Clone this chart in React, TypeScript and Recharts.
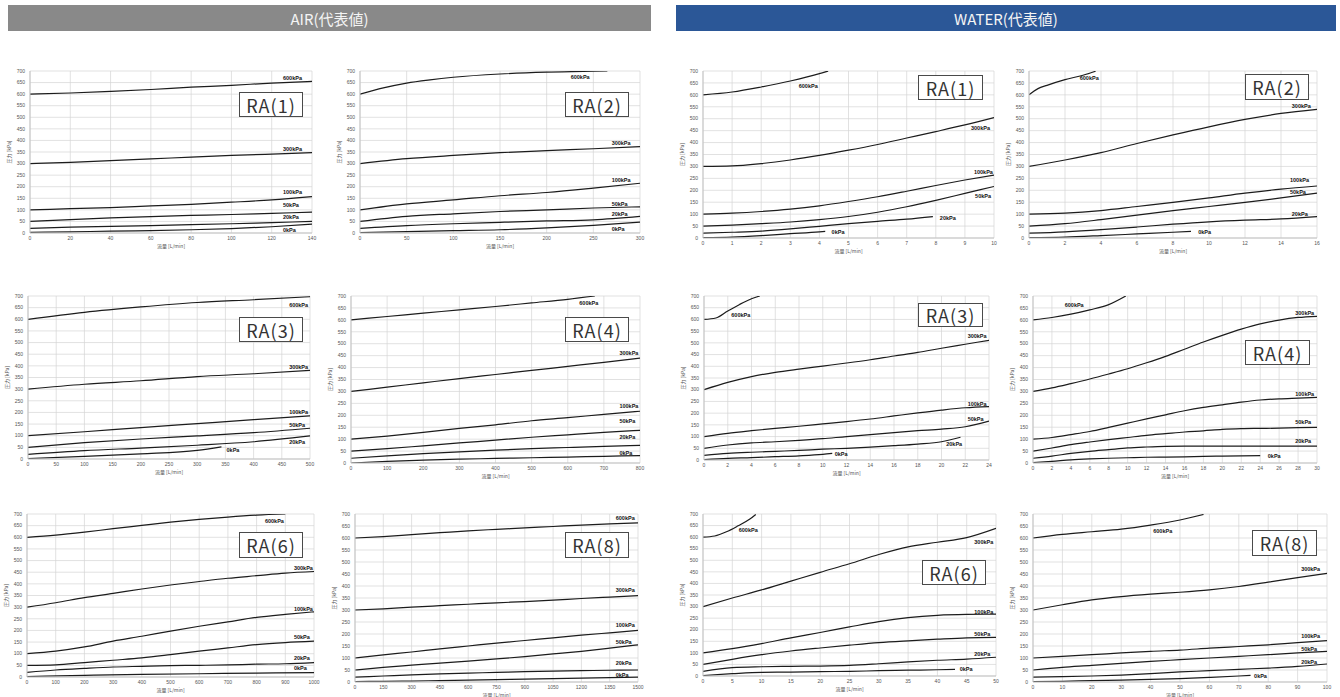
import { LineChart, Line, XAxis, YAxis, CartesianGrid, ReferenceDot, Label } from 'recharts';

const PRESSURES = ['600kPa', '300kPa', '100kPa', '50kPa', '20kPa', '0kPa'];
const Y_TICKS = [0, 50, 100, 150, 200, 250, 300, 350, 400, 450, 500, 550, 600, 650, 700];

// ---- AIR RA(1)
const AIR1_X = [0, 20, 40, 60, 80, 100, 120, 140];
const AIR1_LINES = [
  [[0, 600], [20, 605], [40, 612], [60, 620], [80, 630], [100, 638], [120, 648], [140, 655]],
  [[0, 300], [20, 305], [40, 313], [60, 320], [80, 328], [100, 335], [120, 341], [140, 347]],
  [[0, 100], [20, 105], [40, 110], [60, 117], [80, 124], [100, 133], [120, 143], [140, 157]],
  [[0, 50], [20, 58], [40, 65], [60, 71], [80, 76], [100, 80], [120, 85], [140, 90]],
  [[0, 20], [20, 25], [40, 29], [60, 32], [80, 36], [100, 40], [120, 45], [140, 50]],
  [[0, 3], [20, 5], [40, 8], [60, 10], [80, 14], [100, 19], [120, 27], [140, 38]],
];
const AIR1_TAGS = [[125.6, 671], [125.6, 364], [125.6, 179], [125.6, 122], [125.6, 69], [125.6, 11]];

// ---- AIR RA(2)
const AIR2_X = [0, 50, 100, 150, 200, 250, 300];
const AIR2_LINES = [
  [[0, 600], [25, 627], [50, 648], [75, 662], [100, 673], [150, 687], [200, 695], [250, 699], [265, 700]],
  [[0, 300], [50, 321], [100, 335], [150, 347], [200, 356], [250, 364], [300, 373]],
  [[0, 100], [50, 126], [100, 143], [150, 161], [200, 175], [250, 194], [300, 215]],
  [[0, 50], [50, 72], [100, 83], [150, 93], [200, 100], [250, 108], [300, 113]],
  [[0, 20], [50, 32], [100, 40], [150, 46], [200, 52], [250, 57], [300, 72]],
  [[0, 2], [50, 6], [100, 10], [150, 14], [200, 22], [250, 33], [300, 47]],
];
const AIR2_TAGS = [[225.7, 674], [269.6, 387], [269.6, 227], [269.6, 126], [269.6, 83], [269.6, 19]];

// ---- AIR RA(3)
const AIR3_X = [0, 50, 100, 150, 200, 250, 300, 350, 400, 450, 500];
const AIR3_LINES = [
  [[0, 600], [100, 630], [200, 653], [300, 672], [400, 684], [500, 697]],
  [[0, 300], [100, 321], [200, 336], [300, 354], [400, 366], [500, 381]],
  [[0, 100], [100, 117], [200, 135], [300, 152], [400, 169], [500, 185]],
  [[0, 50], [100, 70], [200, 86], [300, 99], [400, 113], [500, 132]],
  [[0, 20], [100, 36], [200, 47], [300, 59], [400, 74], [500, 99]],
  [[0, 2], [100, 11], [200, 22], [300, 37], [343, 52]],
];
const AIR3_TAGS = [[463, 661], [463, 397], [463, 203], [463, 146], [463, 72], [352, 39]];

// ---- AIR RA(4)
const AIR4_X = [0, 100, 200, 300, 400, 500, 600, 700, 800];
const AIR4_LINES = [
  [[0, 600], [100, 614], [200, 628], [300, 642], [400, 656], [500, 671], [600, 686], [675, 700]],
  [[0, 300], [100, 318], [200, 336], [300, 354], [400, 371], [500, 388], [600, 405], [700, 422], [800, 440]],
  [[0, 100], [100, 113], [200, 128], [300, 145], [400, 160], [500, 177], [600, 190], [700, 204], [800, 217]],
  [[0, 50], [100, 60], [200, 72], [300, 84], [400, 96], [500, 108], [600, 118], [700, 128], [800, 137]],
  [[0, 20], [100, 30], [200, 39], [300, 47], [400, 54], [500, 60], [600, 65], [700, 70], [800, 74]],
  [[0, 0], [100, 7], [200, 12], [300, 16], [400, 19], [500, 22], [600, 25], [700, 28], [800, 31]],
];
const AIR4_TAGS = [[632, 670], [743, 460], [743, 237], [743, 174], [743, 107], [743, 42]];

// ---- AIR RA(6)
const AIR6_X = [0, 100, 200, 300, 400, 500, 600, 700, 800, 900, 1000];
const AIR6_LINES = [
  [[0, 600], [100, 609], [200, 622], [300, 637], [400, 651], [500, 665], [600, 677], [700, 687], [800, 695], [900, 700]],
  [[0, 300], [100, 319], [200, 341], [300, 359], [400, 378], [500, 395], [600, 410], [700, 424], [800, 435], [900, 446], [1000, 453]],
  [[0, 100], [100, 111], [200, 129], [300, 154], [400, 175], [500, 197], [600, 218], [700, 237], [800, 256], [900, 269], [1000, 280]],
  [[0, 50], [100, 52], [200, 62], [300, 72], [400, 82], [500, 96], [600, 111], [700, 125], [800, 139], [900, 148], [1000, 154]],
  [[0, 20], [100, 30], [200, 37], [300, 43], [400, 46], [500, 49], [600, 50], [700, 52], [800, 55], [900, 57], [1000, 62]],
  [[0, 2], [200, 7], [400, 11], [600, 14], [800, 17], [1000, 19]],
];
const AIR6_TAGS = [[829, 671], [930, 470], [930, 292], [930, 172], [930, 82], [930, 39]];

// ---- AIR RA(8)
const AIR8_X = [0, 150, 300, 450, 600, 750, 900, 1050, 1200, 1350, 1500];
const AIR8_LINES = [
  [[0, 600], [150, 606], [300, 614], [450, 622], [600, 630], [750, 636], [900, 642], [1050, 648], [1200, 654], [1350, 659], [1500, 663]],
  [[0, 300], [150, 305], [300, 312], [450, 318], [600, 324], [750, 330], [900, 335], [1050, 341], [1200, 348], [1350, 354], [1500, 360]],
  [[0, 100], [150, 113], [300, 125], [450, 138], [600, 150], [750, 162], [900, 173], [1050, 184], [1200, 195], [1350, 205], [1500, 215]],
  [[0, 50], [150, 61], [300, 70], [450, 79], [600, 87], [750, 96], [900, 106], [1050, 117], [1200, 128], [1350, 141], [1500, 155]],
  [[0, 20], [150, 25], [300, 30], [450, 34], [600, 37], [750, 40], [900, 43], [1050, 45], [1200, 47], [1350, 49], [1500, 50]],
  [[0, 2], [150, 3], [300, 4], [450, 6], [600, 8], [750, 10], [900, 12], [1050, 14], [1200, 16], [1350, 18], [1500, 20]],
];
const AIR8_TAGS = [[1382, 683], [1382, 383], [1382, 236], [1382, 167], [1382, 78], [1382, 31]];

// ---- WATER RA(1)
const WAT1_X = [0, 1, 2, 3, 4, 5, 6, 7, 8, 9, 10];
const WAT1_LINES = [
  [[0, 600], [1, 612], [2, 633], [3, 658], [4, 689], [4.3, 700]],
  [[0, 300], [1, 302], [2, 312], [3, 327], [4, 346], [5, 368], [6, 392], [7, 419], [8, 446], [9, 474], [10, 505]],
  [[0, 100], [1, 104], [2, 111], [3, 121], [4, 135], [5, 153], [6, 173], [7, 196], [8, 220], [9, 243], [10, 264]],
  [[0, 50], [1, 54], [2, 60], [3, 67], [4, 77], [5, 90], [6, 108], [7, 131], [8, 158], [9, 187], [10, 216]],
  [[0, 20], [1, 24], [2, 29], [3, 38], [4, 49], [5, 60], [6, 70], [7, 79], [7.9, 90]],
  [[0, 2], [1, 4], [2, 10], [3, 18], [4, 26], [4.2, 28]],
];
const WAT1_TAGS = [[3.29, 636], [9.21, 462], [9.31, 278], [9.35, 174], [8.14, 82], [4.42, 24]];

// ---- WATER RA(2)
const WAT2_X = [0, 2, 4, 6, 8, 10, 12, 14, 16];
const WAT2_LINES = [
  [[0, 600], [0.5, 626], [1, 640], [2, 664], [3, 682], [3.7, 699]],
  [[0, 300], [2, 327], [4, 358], [6, 396], [8, 432], [10, 466], [12, 497], [14, 522], [16, 539]],
  [[0, 100], [2, 104], [4, 115], [6, 132], [8, 149], [10, 168], [12, 188], [14, 205], [16, 218]],
  [[0, 50], [2, 60], [4, 77], [6, 96], [8, 115], [10, 132], [12, 149], [14, 168], [16, 188]],
  [[0, 20], [2, 26], [4, 35], [6, 46], [8, 58], [10, 68], [12, 75], [14, 80], [16, 90]],
  [[0, 2], [2, 4], [4, 10], [6, 17], [8, 24], [9, 28]],
];
const WAT2_TAGS = [[2.82, 672], [14.6, 555], [14.5, 241], [14.5, 192], [14.6, 102], [9.4, 25]];

// ---- WATER RA(3)
const WAT3_X = [0, 2, 4, 6, 8, 10, 12, 14, 16, 18, 20, 22, 24];
const WAT3_LINES = [
  [[0, 600], [1, 606], [2, 636], [3, 664], [4, 688], [4.7, 700]],
  [[0, 300], [2, 331], [4, 356], [6, 374], [8, 388], [10, 401], [12, 414], [14, 428], [16, 444], [18, 459], [20, 477], [22, 494], [24, 511]],
  [[0, 100], [2, 114], [4, 125], [6, 135], [8, 144], [10, 154], [12, 164], [14, 175], [16, 188], [18, 201], [20, 213], [22, 223], [24, 228]],
  [[0, 50], [2, 64], [4, 73], [6, 78], [8, 84], [10, 91], [12, 100], [14, 108], [16, 117], [18, 125], [20, 132], [22, 142], [24, 166]],
  [[0, 20], [2, 28], [4, 33], [6, 37], [8, 41], [10, 46], [12, 50], [14, 55], [16, 61], [18, 68], [20, 78], [21.6, 97]],
  [[0, 2], [2, 7], [4, 10], [6, 14], [8, 18], [10, 24], [10.8, 28]],
];
const WAT3_TAGS = [[2.3, 619], [22.2, 531], [22.2, 238], [22.2, 174], [20.4, 67], [11, 24]];

// ---- WATER RA(4)
const WAT4_X = [0, 2, 4, 6, 8, 10, 12, 14, 16, 18, 20, 22, 24, 26, 28, 30];
const WAT4_LINES = [
  [[0, 600], [2, 610], [4, 624], [6, 642], [8, 664], [9.8, 700]],
  [[0, 300], [2, 315], [4, 333], [6, 352], [8, 373], [10, 395], [12, 420], [14, 447], [16, 477], [18, 507], [20, 535], [22, 561], [24, 583], [26, 599], [28, 610], [30, 615]],
  [[0, 100], [2, 107], [4, 119], [6, 132], [8, 149], [10, 167], [12, 185], [14, 202], [16, 219], [18, 233], [20, 244], [22, 255], [24, 264], [26, 269], [28, 272], [30, 275]],
  [[0, 50], [2, 63], [4, 77], [6, 88], [8, 98], [10, 107], [12, 116], [14, 123], [16, 130], [18, 135], [20, 141], [22, 144], [24, 145], [26, 146], [28, 148], [30, 149]],
  [[0, 20], [2, 29], [4, 40], [6, 49], [8, 56], [10, 63], [12, 67], [14, 70], [16, 71], [20, 71], [24, 71], [30, 71]],
  [[0, 2], [2, 7], [4, 13], [6, 17], [8, 20], [10, 22], [12, 24], [14, 25], [16, 26], [18, 28], [20, 29], [24, 31]],
];
const WAT4_TAGS = [[3.35, 662], [27.7, 628], [27.7, 290], [27.7, 172], [27.7, 91], [24.8, 28]];

// ---- WATER RA(6)
const WAT6_X = [0, 5, 10, 15, 20, 25, 30, 35, 40, 45, 50];
const WAT6_LINES = [
  [[0, 600], [2, 605], [4, 623], [6, 649], [8, 678], [9, 698]],
  [[0, 300], [5, 337], [10, 372], [15, 410], [20, 448], [25, 485], [30, 525], [35, 558], [40, 578], [45, 598], [50, 638]],
  [[0, 100], [5, 118], [10, 140], [15, 165], [20, 188], [25, 212], [30, 235], [35, 252], [40, 262], [45, 266], [50, 267]],
  [[0, 50], [5, 72], [10, 92], [15, 108], [20, 121], [25, 133], [30, 144], [35, 152], [40, 159], [45, 165], [50, 167]],
  [[0, 20], [5, 36], [10, 40], [15, 42], [20, 43], [25, 46], [30, 53], [35, 61], [40, 68], [45, 73], [50, 81]],
  [[0, 2], [5, 10], [10, 16], [15, 17], [20, 19], [25, 20], [30, 23], [35, 25], [40, 27], [43, 29]],
];
const WAT6_TAGS = [[6.1, 631], [46.3, 580], [46.3, 277], [46.3, 183], [46.3, 97], [43.8, 29]];

// ---- WATER RA(8)
const WAT8_X = [0, 10, 20, 30, 40, 50, 60, 70, 80, 90, 100];
const WAT8_LINES = [
  [[0, 600], [10, 615], [20, 626], [30, 637], [40, 654], [50, 675], [58, 698]],
  [[0, 300], [10, 322], [20, 342], [30, 356], [40, 366], [50, 374], [60, 384], [70, 398], [80, 416], [90, 435], [100, 453]],
  [[0, 100], [10, 107], [20, 114], [30, 121], [40, 128], [50, 133], [60, 141], [70, 148], [80, 155], [90, 164], [100, 172]],
  [[0, 50], [10, 61], [20, 69], [30, 78], [40, 86], [50, 93], [60, 100], [70, 107], [80, 114], [90, 121], [100, 128]],
  [[0, 20], [10, 22], [20, 25], [30, 29], [40, 35], [50, 42], [60, 47], [70, 53], [80, 58], [90, 65], [100, 75]],
  [[0, 2], [10, 3], [20, 6], [30, 8], [40, 11], [50, 14], [60, 19], [70, 25], [74, 28]],
];
const WAT8_TAGS = [[40.9, 627], [91.2, 471], [91.2, 190], [91.2, 139], [91.2, 83], [75.2, 24]];

// layout: plot rect [left, top, right, bottom] and name box [left, top, w, h] in page px
const PANELS = [
  { name: 'RA(1)', xTicks: AIR1_X, lines: AIR1_LINES, tags: AIR1_TAGS, plot: [30, 71, 312, 233], box: [239, 92, 64, 25] },
  { name: 'RA(2)', xTicks: AIR2_X, lines: AIR2_LINES, tags: AIR2_TAGS, plot: [360, 71, 640, 233], box: [565, 92, 64, 25] },
  { name: 'RA(1)', xTicks: WAT1_X, lines: WAT1_LINES, tags: WAT1_TAGS, plot: [703, 71, 994, 238], box: [918, 75, 65, 25] },
  { name: 'RA(2)', xTicks: WAT2_X, lines: WAT2_LINES, tags: WAT2_TAGS, plot: [1029, 71, 1317, 238], box: [1245, 74, 64, 26] },
  { name: 'RA(3)', xTicks: AIR3_X, lines: AIR3_LINES, tags: AIR3_TAGS, plot: [28, 296, 310, 459], box: [239, 317, 64, 25] },
  { name: 'RA(4)', xTicks: AIR4_X, lines: AIR4_LINES, tags: AIR4_TAGS, plot: [351, 296, 640, 463], box: [565, 317, 64, 25] },
  { name: 'RA(3)', xTicks: WAT3_X, lines: WAT3_LINES, tags: WAT3_TAGS, plot: [704, 296, 989, 460], box: [918, 303, 65, 24] },
  { name: 'RA(4)', xTicks: WAT4_X, lines: WAT4_LINES, tags: WAT4_TAGS, plot: [1033, 296, 1317, 463], box: [1245, 340, 65, 25] },
  { name: 'RA(6)', xTicks: AIR6_X, lines: AIR6_LINES, tags: AIR6_TAGS, plot: [27, 514, 314, 677], box: [239, 532, 64, 26] },
  { name: 'RA(8)', xTicks: AIR8_X, lines: AIR8_LINES, tags: AIR8_TAGS, plot: [355, 514, 638, 682], box: [565, 532, 64, 26] },
  { name: 'RA(6)', xTicks: WAT6_X, lines: WAT6_LINES, tags: WAT6_TAGS, plot: [703, 514, 996, 676], box: [922, 560, 64, 25] },
  { name: 'RA(8)', xTicks: WAT8_X, lines: WAT8_LINES, tags: WAT8_TAGS, plot: [1033, 514, 1327, 682], box: [1252, 530, 65, 26] },
];

const YW = 26;
const MT = 4;
const MR = 8;
const XH = 22;
const AXIS_FONT = '"Liberation Sans", Arial, sans-serif';
const JP_FONT = '"Noto Sans CJK JP", "Noto Sans", sans-serif';

function YTitle(props: any) {
  const vb = props.viewBox;
  const x = vb.x + 6;
  const y = vb.y + vb.height / 2;
  return (
    <text x={x} y={y} transform={`rotate(-90 ${x} ${y})`} textAnchor="middle" dominantBaseline="middle" fontSize={5} fill="#555" fontFamily={JP_FONT}>
      圧力 [kPa]
    </text>
  );
}

function XTitle(props: any) {
  const vb = props.viewBox;
  return (
    <text x={vb.x + vb.width / 2} y={vb.y + 14} textAnchor="middle" dominantBaseline="middle" fontSize={5} fill="#555" fontFamily={JP_FONT}>
      流量 [L/min]
    </text>
  );
}

function Panel({ p }: { p: any }) {
  const [L, T, R, B] = p.plot;
  const w = R - L + YW + MR;
  const h = B - T + MT + XH;
  const xMax = p.xTicks[p.xTicks.length - 1];
  const [bx, by, bw, bh] = p.box;
  return (
    <>
      <div style={{ position: 'absolute', left: L - YW, top: T - MT }}>
        <LineChart width={w} height={h} margin={{ top: MT, right: MR, left: 0, bottom: 0 }} style={{ fontFamily: AXIS_FONT }}>
          <CartesianGrid stroke="#d4d4d4" strokeWidth={0.7} />
          <XAxis
            type="number"
            dataKey="x"
            domain={[0, xMax]}
            ticks={p.xTicks}
            interval={0}
            height={XH}
            allowDataOverflow
            tickLine={false}
            tickSize={2}
            tickMargin={1}
            axisLine={{ stroke: '#c4c4c4' }}
            tick={{ fontSize: 5, fill: '#555' }}
          >
            <Label content={XTitle} />
          </XAxis>
          <YAxis
            type="number"
            domain={[0, 700]}
            ticks={Y_TICKS}
            interval={0}
            width={YW}
            allowDataOverflow
            tickLine={false}
            tickSize={3}
            tickMargin={2}
            axisLine={{ stroke: '#c4c4c4' }}
            tick={{ fontSize: 5, fill: '#555' }}
          >
            <Label content={YTitle} />
          </YAxis>
          {p.lines.map((pts: number[][], i: number) => (
            <Line
              key={PRESSURES[i]}
              data={pts.map(([x, y]) => ({ x, y }))}
              dataKey="y"
              type="monotone"
              dot={false}
              stroke="#1c1c1c"
              strokeWidth={1.2}
              isAnimationActive={false}
            />
          ))}
          {p.tags.map(([x, y]: number[], i: number) => (
            <ReferenceDot
              key={'t' + i}
              x={x}
              y={y}
              r={0}
              fill="none"
              stroke="none"
              label={{ value: PRESSURES[i], position: 'right', offset: 0, fontSize: 5.5, fontWeight: 700, fill: '#111' }}
            />
          ))}
        </LineChart>
      </div>
      <div
        style={{
          position: 'absolute',
          left: bx,
          top: by,
          width: bw,
          height: bh,
          boxSizing: 'border-box',
          border: '1.6px solid #4a4a4a',
          background: '#fff',
          display: 'flex',
          alignItems: 'center',
          justifyContent: 'center',
          fontFamily: JP_FONT,
          fontSize: 18,
          letterSpacing: 1,
          lineHeight: 1,
          color: '#333',
          whiteSpace: 'nowrap',
          overflow: 'visible',
        }}
      >
        {p.name}
      </div>
    </>
  );
}

export default function App() {
  return (
    <div style={{ position: 'absolute', left: 0, top: 0, width: 1340, height: 697, background: '#fff', overflow: 'hidden' }}>
      <div
        style={{
          position: 'absolute', left: 8, top: 5, width: 643, height: 26, background: '#898989', color: '#f4f4f4',
          fontFamily: JP_FONT, fontSize: 15, display: 'flex', alignItems: 'center', justifyContent: 'center',
        }}
      >
        AIR(代表値)
      </div>
      <div
        style={{
          position: 'absolute', left: 676, top: 5, width: 660, height: 26, background: '#2b5797', color: '#f4f4f4',
          fontFamily: JP_FONT, fontSize: 15, display: 'flex', alignItems: 'center', justifyContent: 'center',
        }}
      >
        WATER(代表値)
      </div>
      {PANELS.map((p, i) => (
        <Panel key={i} p={p} />
      ))}
    </div>
  );
}
